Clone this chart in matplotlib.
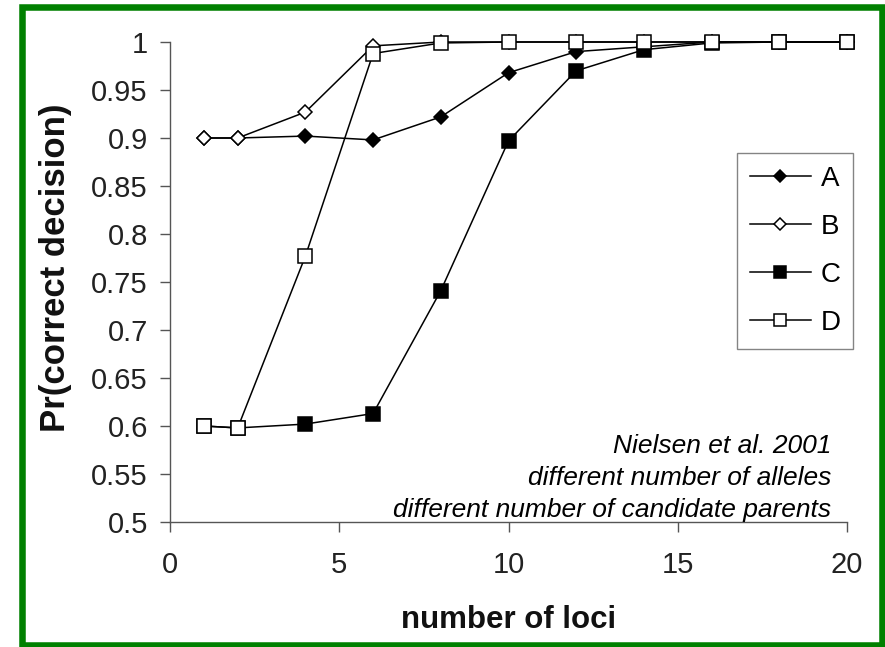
import matplotlib
matplotlib.use("Agg")
import matplotlib.pyplot as plt
from matplotlib.patches import Rectangle

# ─── DATA ─────────────────────────────────────────────────────────────────
loci = [1, 2, 4, 6, 8, 10, 12, 14, 16, 18, 20]
series_a = [0.900, 0.900, 0.902, 0.898, 0.922, 0.968, 0.990, 0.995, 1.000, 1.000, 1.000]
series_b = [0.900, 0.900, 0.927, 0.996, 1.000, 1.000, 1.000, 1.000, 1.000, 1.000, 1.000]
series_c = [0.600, 0.598, 0.602, 0.613, 0.741, 0.897, 0.970, 0.992, 0.999, 1.000, 1.000]
series_d = [0.600, 0.598, 0.777, 0.988, 0.999, 1.000, 1.000, 1.000, 1.000, 1.000, 1.000]
labels = ["A", "B", "C", "D"]
x_ticks = [0, 5, 10, 15, 20]
y_ticks = [0.5, 0.55, 0.6, 0.65, 0.7, 0.75, 0.8, 0.85, 0.9, 0.95, 1.0]
notes = ["Nielsen et al. 2001",
         "different number of alleles",
         "different number of candidate parents"]

plt.rcParams['font.family'] = ['Liberation Sans', 'DejaVu Sans']

W, H = 885, 647
fig = plt.figure(figsize=(W / 100, H / 100), dpi=100)
ax = fig.add_axes([170 / W, 1 - 522 / H, 677 / W, 480 / H])

styles = [
    dict(marker='D', ms=7, mfc='black'),
    dict(marker='D', ms=7, mfc='white'),
    dict(marker='s', ms=9.5, mfc='black'),
    dict(marker='s', ms=9.5, mfc='white'),
]
for ys, lab, st in zip([series_a, series_b, series_c, series_d], labels, styles):
    ax.plot(loci, ys, color='black', lw=1.1, mec='black', mew=1.1,
            label=lab, clip_on=False, **st)

ax.set_xlim(0, 20)
ax.set_ylim(0.5, 1.0)
ax.set_xticks(x_ticks)
ax.set_yticks(y_ticks)
ax.set_yticklabels([f"{v:g}" for v in y_ticks])

for side in ['top', 'right']:
    ax.spines[side].set_visible(False)
for side in ['left', 'bottom']:
    ax.spines[side].set_color('#555555')
    ax.spines[side].set_linewidth(1.0)
ax.tick_params(direction='out', length=7, width=1.0, color='#555555',
               labelsize=21, labelcolor='#222222')
ax.tick_params(axis='y', pad=9)
ax.tick_params(axis='x', pad=14)

ax.set_ylabel("Pr(correct decision)", fontsize=25, fontweight='bold',
              color='#111111', ha='center', va='center')
ax.yaxis.set_label_coords((56 - 170) / 677, (522 - 268) / 480)
ax.set_xlabel("number of loci", fontsize=22.5, fontweight='bold',
              color='#111111', ha='center', va='center')
ax.xaxis.set_label_coords(0.5, (522 - 620) / 480)

leg = ax.legend(loc='upper right', bbox_to_anchor=((853 - 170) / 677, (522 - 153) / 480),
                borderaxespad=0, fontsize=20, frameon=True, fancybox=False,
                handlelength=2.2, handletextpad=0.35,
                labelspacing=0.8, borderpad=0.45, markerscale=0.85)
leg.get_frame().set_edgecolor('#666666')
leg.get_frame().set_linewidth(1.0)

# italic annotation lines, right aligned above the x axis
for line, yb in zip(notes, [453, 485, 517]):
    ax.text((831 - 170) / 677, (522 - yb) / 480, line, transform=ax.transAxes,
            ha='right', va='baseline', fontsize=19, style='italic', color='black')

# green frame around the whole figure
fig.add_artist(Rectangle((21.5 / W, 2 / H), 860 / W, 638 / H, transform=fig.transFigure,
                         fill=False, edgecolor='#008000', linewidth=4.7))

fig.savefig("out.png", dpi=100)
